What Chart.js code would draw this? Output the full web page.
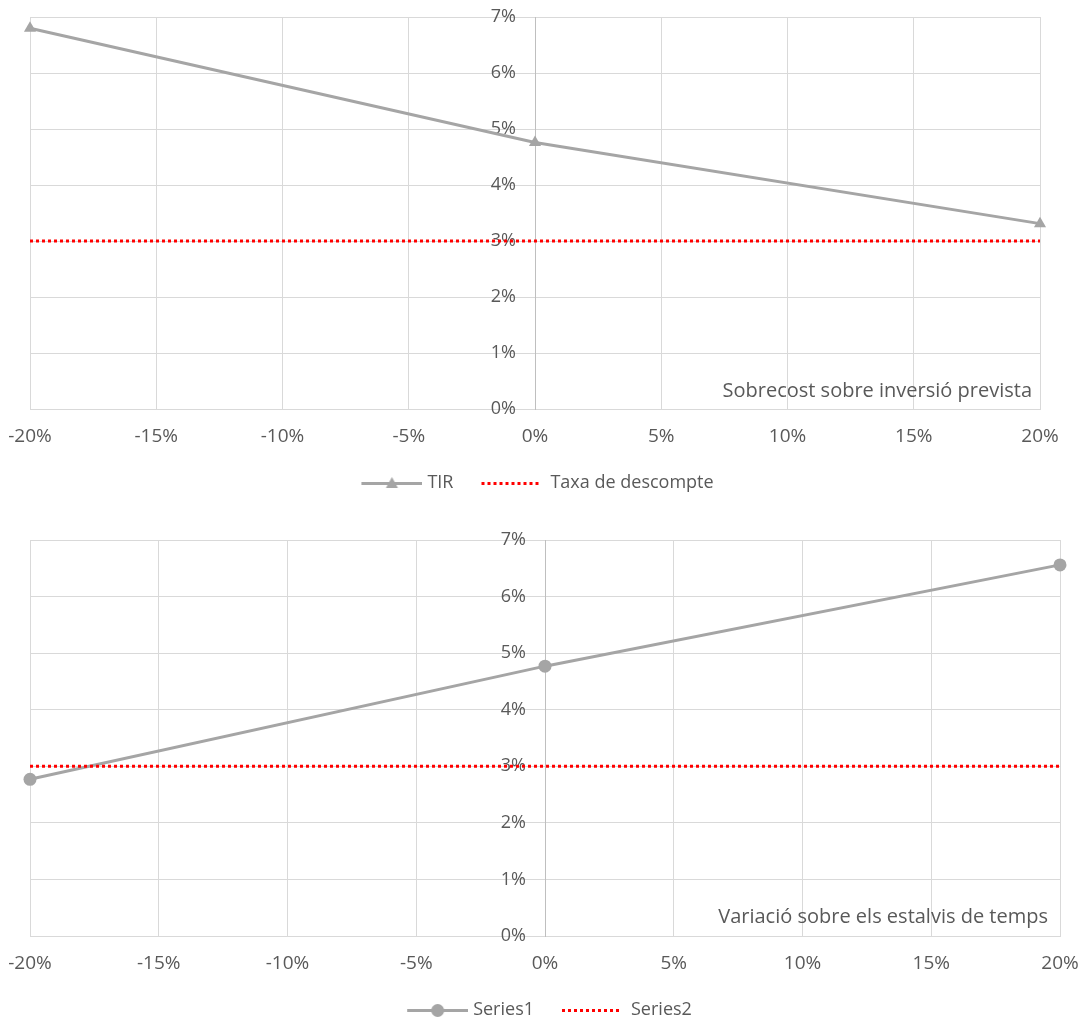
<!DOCTYPE html>
<html>
<head>
<meta charset="utf-8">
<script src="https://cdn.jsdelivr.net/npm/chart.js@4.4.1/dist/chart.umd.min.js"></script>
<style>
  html, body { margin: 0; padding: 0; background: #fff; }
  body { width: 1086px; height: 1019px; position: relative; overflow: hidden; font-family: "Open Sans", sans-serif; }
  .box { position: absolute; left: 0; width: 1086px; }
  .note { position: absolute; font-family: "Open Sans", sans-serif; font-size: 20px; color: #595959; white-space: nowrap; line-height: 1; }
</style>
</head>
<body>
<div class="box" style="top:0px; height:510px"><canvas id="c1" width="1086" height="510"></canvas></div>
<div class="box" style="top:510px; height:527px"><canvas id="c2" width="1086" height="527"></canvas></div>
<div class="note" id="n1" style="right:54px; top:380px;">Sobrecost sobre inversió prevista</div>
<div class="note" id="n2" style="right:38px; top:906px;">Variació sobre els estalvis de temps</div>
<script>
// ---- data ----
const xTicks = [-20, -15, -10, -5, 0, 5, 10, 15, 20];       // % x-axis ticks
const xPoints = [-20, 0, 20];                                // % points
const tirValues = [6.80, 4.76, 3.31];                        // TIR (%) vs sobrecost
const taxaValues = [3, 3, 3];                                // Taxa de descompte (%)
const series1Values = [2.77, 4.77, 6.56];                    // Series1 (%) vs estalvis de temps
const series2Values = [3, 3, 3];                             // Series2 (%)
const yMin = 0, yMax = 7, yStep = 1;
const chart1Labels = ['TIR', 'Taxa de descompte'];
const chart2Labels = ['Series1', 'Series2'];

const GREY = '#A5A5A5', RED = '#FF0000', TEXT = '#595959', GRID = '#D9D9D9', AXIS = '#BFBFBF';
const CLEAR = 'rgba(0,0,0,0)';
const BOXW = 78;   // legend symbol box width

Chart.defaults.font.family = '"Open Sans", sans-serif';
Chart.defaults.font.size = 18;
Chart.defaults.color = TEXT;

function makeIcon(kind) {
  const c = document.createElement('canvas');
  c.width = BOXW + 8; c.height = 14;          // overflows the legend box by 4px each side
  const g = c.getContext('2d');
  if (kind === 'dot') {
    g.fillStyle = RED;
    for (let x = 22; x < 80; x += 6) g.fillRect(x, 6, 3, 3);
  } else {
    g.strokeStyle = GREY; g.lineWidth = 3;
    g.beginPath(); g.moveTo(25, 7.5); g.lineTo(86, 7.5); g.stroke();
    g.fillStyle = GREY;
    const cx = 55.5;
    if (kind === 'tri') {
      g.beginPath(); g.moveTo(cx, 1); g.lineTo(cx + 6, 12); g.lineTo(cx - 6, 12); g.closePath(); g.fill();
    } else {
      g.beginPath(); g.arc(cx, 7.5, 6.5, 0, Math.PI * 2); g.fill();
    }
  }
  return c;
}

function pts(xs, ys) { return xs.map((x, i) => ({ x: x, y: ys[i] })); }

function build(canvasId, labels, lineVals, refVals, marker, markerR, pad, legendDx) {
  const icons = [makeIcon(marker === 'triangle' ? 'tri' : 'circ'), makeIcon('dot')];
  return new Chart(document.getElementById(canvasId), {
    type: 'line',
    data: {
      datasets: [
        { label: labels[0], data: pts(xPoints, lineVals), borderColor: GREY, backgroundColor: GREY,
          borderWidth: 3, pointStyle: marker, pointRadius: markerR, pointHoverRadius: markerR,
          pointBackgroundColor: GREY, pointBorderWidth: 0, clip: false, order: 1, tension: 0 },
        { label: labels[1], data: pts(xPoints, refVals), borderColor: RED, backgroundColor: RED,
          borderWidth: 3, borderDash: [3, 3], pointRadius: 0, pointHoverRadius: 0, order: 0, clip: false }
      ]
    },
    plugins: [{
      id: 'legendShift',
      afterLayout(chart) { const l = chart.legend; if (l) { l.left += legendDx; l.right += legendDx; } }
    }],
    options: {
      responsive: false,
      animation: false,
      events: [],
      layout: { padding: pad },
      scales: {
        x: {
          type: 'linear', min: xTicks[0], max: xTicks[xTicks.length - 1],
          afterBuildTicks: s => { s.ticks = xTicks.map(v => ({ value: v })); },
          grid: { color: GRID, lineWidth: 1, drawTicks: true, tickLength: 14, tickColor: CLEAR },
          border: { color: GRID, width: 1 },
          ticks: { padding: 2, maxRotation: 0, autoSkip: false, font: { size: 19 }, callback: v => v + '%' },
          title: { display: true, text: '', font: { size: 1 }, padding: { top: 13, bottom: 0 } }
        },
        y: {
          type: 'linear', min: yMin, max: yMax,
          position: 'center',
          grid: { color: GRID, lineWidth: 1, drawTicks: true, tickLength: 19, tickColor: CLEAR },
          border: { color: AXIS, width: 1 },
          ticks: { stepSize: yStep, padding: 0, font: { size: 18 }, callback: v => v + '%' }
        }
      },
      plugins: {
        tooltip: { enabled: false },
        legend: {
          position: 'bottom',
          labels: {
            usePointStyle: true, pointStyleWidth: BOXW, padding: 10, color: TEXT,
            font: { size: 18 },
            sort: (a, b) => a.datasetIndex - b.datasetIndex,
            generateLabels: (chart) => {
              const items = Chart.defaults.plugins.legend.labels.generateLabels(chart);
              items.forEach(it => { it.pointStyle = icons[it.datasetIndex]; it.fontColor = TEXT; });
              return items;
            }
          }
        }
      }
    }
  });
}

build('c1', chart1Labels, tirValues, taxaValues, 'triangle', 7, { top: 17, left: 30, right: 46, bottom: 8 }, -8);
build('c2', chart2Labels, series1Values, series2Values, 'circle', 6.5, { top: 30, left: 30, right: 26, bottom: 8 }, -6);
</script>
</body>
</html>
